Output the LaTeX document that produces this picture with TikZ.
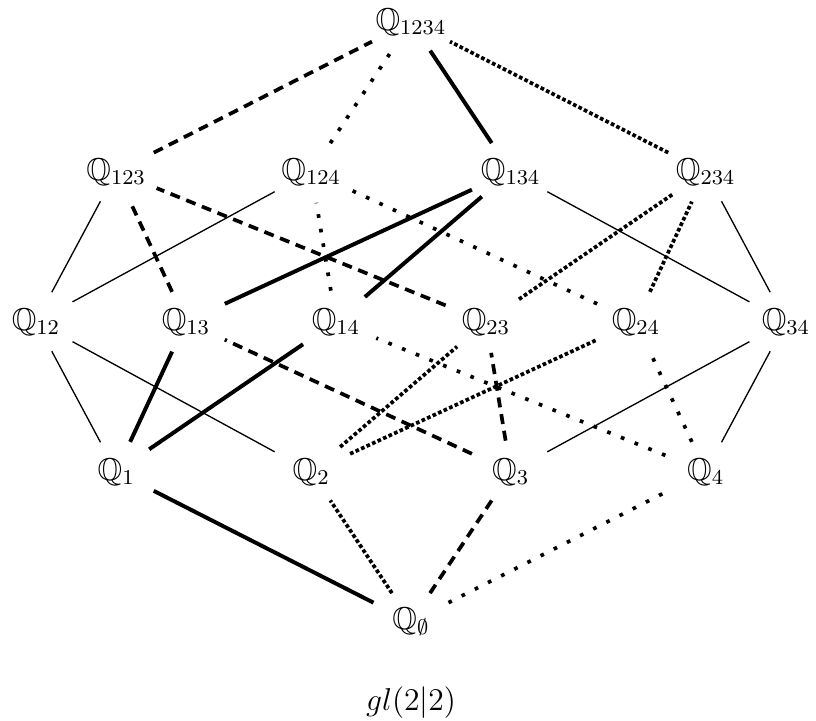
\documentclass[tikz,border=0pt]{standalone}
\usepackage{amssymb}
\usetikzlibrary{shapes.geometric}
\tikzset{
  vert/.style={ellipse, inner sep=0pt, minimum width=1.25cm, minimum height=0.82cm, font=\large},
  e0/.style={line width=0.5pt},
  e1/.style={line width=1.5pt},
  e2/.style={line width=1.4pt, dash pattern=on 1.4pt off 0.9pt},
  e3/.style={line width=1.4pt, dash pattern=on 3.8pt off 2.6pt},
  e4/.style={line width=1.4pt, dash pattern=on 1.4pt off 4.2pt},
}
\begin{document}
\begin{tikzpicture}
            \useasboundingbox (-5.48,-1.31) rectangle (5.4,8.29);
            % levels
            \node[vert] (q) at (0,0) {$\mathbb{Q}_\emptyset$};
            \node[vert] (q1) at (-3.93,2) {$\mathbb{Q}_1$};
            \node[vert] (q2) at (-1.33,2) {$\mathbb{Q}_2$};
            \node[vert] (q3) at (1.33,2) {$\mathbb{Q}_3$};
            \node[vert] (q4) at (3.93,2) {$\mathbb{Q}_4$};
            \node[vert] (q12) at (-5,4) {$\mathbb{Q}_{12}$};
            \node[vert] (q13) at (-3,4) {$\mathbb{Q}_{13}$};
            \node[vert] (q14) at (-1,4) {$\mathbb{Q}_{14}$};
            \node[vert] (q23) at (1,4) {$\mathbb{Q}_{23}$};
            \node[vert] (q24) at (3,4) {$\mathbb{Q}_{24}$};
            \node[vert] (q34) at (5,4) {$\mathbb{Q}_{34}$};
            \node[vert] (q123) at (-3.93,6) {$\mathbb{Q}_{123}$};
            \node[vert] (q124) at (-1.33,6) {$\mathbb{Q}_{124}$};
            \node[vert] (q134) at (1.33,6) {$\mathbb{Q}_{134}$};
            \node[vert] (q234) at (3.93,6) {$\mathbb{Q}_{234}$};
            \node[vert] (q1234) at (0,8) {$\mathbb{Q}_{1234}$};
            \node[font=\large] (name) at (0,-1.08) {$gl(2|2)$};
            % edges
            \draw[e1] (q) -- (q1);
            \draw[e2] (q) -- (q2);
            \draw[e3] (q) -- (q3);
            \draw[e4] (q) -- (q4);
            \draw[e0] (q1) -- (q12);
            \draw[e1] (q1) -- (q13);
            \draw[e1] (q1) -- (q14);
            \draw[e0] (q2) -- (q12);
            \draw[e2] (q2) -- (q23);
            \draw[e2] (q2) -- (q24);
            \draw[e3] (q3) -- (q13);
            \draw[e3] (q3) -- (q23);
            \draw[e0] (q3) -- (q34);
            \draw[e4] (q4) -- (q14);
            \draw[e4] (q4) -- (q24);
            \draw[e0] (q4) -- (q34);
            \draw[e0] (q12) -- (q123);
            \draw[e0] (q12) -- (q124);
            \draw[e3] (q13) -- (q123);
            \draw[e1] (q13) -- (q134);
            \draw[e4] (q14) -- (q124);
            \draw[e1] (q14) -- (q134);
            \draw[e3] (q23) -- (q123);
            \draw[e2] (q23) -- (q234);
            \draw[e4] (q24) -- (q124);
            \draw[e2] (q24) -- (q234);
            \draw[e0] (q34) -- (q134);
            \draw[e0] (q34) -- (q234);
            \draw[e3] (q123) -- (q1234);
            \draw[e4] (q124) -- (q1234);
            \draw[e1] (q134) -- (q1234);
            \draw[e2] (q234) -- (q1234);
        \end{tikzpicture}
\end{document}
